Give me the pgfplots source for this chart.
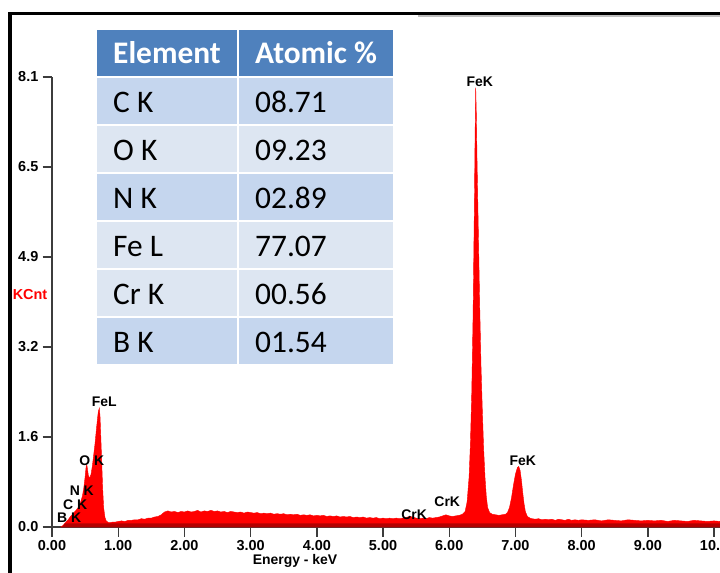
\documentclass[border=0pt]{standalone}
\usepackage{fontspec}
\usepackage{pgfplots}
\pgfplotsset{compat=1.18}
\setmainfont{Liberation Sans}
\newfontfamily\calibri{Carlito}
\definecolor{hdr}{RGB}{79,129,189}
\definecolor{rowdark}{RGB}{197,214,238}
\definecolor{rowlight}{RGB}{221,230,242}
\definecolor{axgray}{RGB}{60,60,60}
\definecolor{basered}{RGB}{180,0,0}
\newcommand{\lbl}{\fontsize{14}{14}\selectfont\bfseries}
\newcommand{\tkl}{\fontsize{14.5}{14.5}\selectfont\bfseries}
\begin{document}
\begin{tikzpicture}
\useasboundingbox (0,0) rectangle (720bp,573bp);
\fill[white] (0,0) rectangle (720bp,573bp);
\begin{axis}[
  at={(52bp,46bp)}, anchor=origin,
  scale only axis, width=668bp, height=450bp,
  xmin=0, xmax=10.09, ymin=0, ymax=8.1,
  axis lines=left, axis line style={-, line width=1.6bp, axgray},
  clip=false,
  tick align=outside, major tick length=9.5bp,
  tick style={line width=1.4bp, axgray},
  xtick={0,1,2,3,4,5,6,7,8,9,10},
  xticklabels={0.00,1.00,2.00,3.00,4.00,5.00,6.00,7.00,8.00,9.00,10.0},
  ytick={0,1.62,3.24,4.86,6.48,8.1},
  yticklabels={0.0,1.6,3.2,4.9,6.5,8.1},
  xticklabel style={font=\tkl, inner sep=0pt, anchor=north, yshift=-4bp},
  yticklabel style={font=\tkl, inner sep=0pt, anchor=east, xshift=-4bp},
  minor tick num=0,
]
\addplot[fill=red, draw=red, line width=0.4bp] coordinates {
(0.13,0) (0.16,0.02) (0.19,0.06) (0.22,0.10) (0.25,0.14) (0.28,0.19) (0.31,0.23) (0.34,0.27) (0.37,0.31) (0.40,0.36) (0.43,0.44) (0.46,0.56) (0.48,0.70) (0.50,0.90) (0.515,1.08) (0.525,1.12) (0.535,1.05) (0.55,0.92) (0.57,0.88) (0.59,0.95) (0.61,1.10) (0.63,1.30) (0.65,1.50) (0.67,1.75) (0.69,1.98) (0.70,2.08) (0.715,2.14) (0.725,2.0) (0.735,1.7) (0.75,1.2) (0.765,0.70) (0.78,0.35) (0.80,0.17) (0.82,0.11) (0.85,0.08) (0.88,0.08) (0.92,0.09) (0.96,0.09)
(1.00,0.10) (1.05,0.11) (1.10,0.10) (1.15,0.12) (1.20,0.12) (1.25,0.13) (1.30,0.13) (1.35,0.15) (1.40,0.14) (1.45,0.16) (1.50,0.16) (1.55,0.18) (1.60,0.19) (1.65,0.22) (1.70,0.27) (1.75,0.29) (1.80,0.27) (1.85,0.28) (1.90,0.26) (1.95,0.28)
(2.00,0.27) (2.05,0.29) (2.10,0.27) (2.15,0.28) (2.20,0.30) (2.25,0.27) (2.30,0.29) (2.35,0.28) (2.40,0.30) (2.45,0.28) (2.50,0.29) (2.55,0.27) (2.60,0.28) (2.65,0.26) (2.70,0.28) (2.75,0.27) (2.80,0.26) (2.85,0.27) (2.90,0.25) (2.95,0.27)
(3.00,0.26) (3.05,0.25) (3.10,0.26) (3.15,0.24) (3.20,0.25) (3.25,0.24) (3.30,0.25) (3.35,0.23) (3.40,0.24) (3.45,0.23) (3.50,0.24) (3.55,0.22) (3.60,0.23) (3.65,0.22) (3.70,0.23) (3.75,0.21) (3.80,0.22) (3.85,0.21) (3.90,0.22) (3.95,0.20)
(4.00,0.21) (4.05,0.20) (4.10,0.21) (4.15,0.19) (4.20,0.20) (4.25,0.19) (4.30,0.20) (4.35,0.18) (4.40,0.19) (4.45,0.18) (4.50,0.19) (4.55,0.17) (4.60,0.18) (4.65,0.17) (4.70,0.18) (4.75,0.16) (4.80,0.17) (4.85,0.16) (4.90,0.17) (4.95,0.15)
(5.00,0.16) (5.05,0.15) (5.10,0.16) (5.15,0.15) (5.20,0.16) (5.25,0.15) (5.30,0.16) (5.35,0.17) (5.40,0.19) (5.45,0.18) (5.50,0.16) (5.55,0.15) (5.60,0.16) (5.65,0.15) (5.70,0.17) (5.75,0.16) (5.80,0.17) (5.85,0.18) (5.90,0.20) (5.95,0.22)
(6.00,0.20) (6.05,0.19) (6.10,0.20) (6.15,0.21) (6.20,0.23) (6.24,0.28) (6.27,0.45) (6.30,0.9) (6.32,1.5) (6.34,2.4) (6.36,3.8) (6.38,5.8) (6.39,7.0) (6.40,7.91) (6.41,7.4) (6.42,6.6) (6.44,5.3) (6.46,4.0) (6.48,2.9) (6.50,2.1) (6.52,1.4) (6.54,0.9) (6.56,0.55) (6.58,0.35) (6.61,0.26) (6.65,0.23) (6.70,0.22) (6.75,0.21) (6.80,0.22) (6.85,0.23) (6.88,0.26) (6.91,0.35) (6.94,0.52) (6.97,0.75)
(7.00,0.95) (7.03,1.07) (7.05,1.09) (7.07,1.02) (7.09,0.85) (7.11,0.62) (7.13,0.42) (7.15,0.28) (7.18,0.19) (7.22,0.16) (7.25,0.15) (7.30,0.14) (7.35,0.15) (7.40,0.13) (7.45,0.14) (7.50,0.13) (7.55,0.14) (7.60,0.12) (7.65,0.14) (7.70,0.13) (7.75,0.12) (7.80,0.14) (7.85,0.12) (7.90,0.13) (7.95,0.12)
(8.00,0.13) (8.10,0.12) (8.20,0.13) (8.30,0.11) (8.40,0.13) (8.50,0.12) (8.60,0.11) (8.70,0.13) (8.80,0.12) (8.90,0.11)
(9.00,0.12) (9.10,0.11) (9.20,0.12) (9.30,0.10) (9.40,0.12) (9.50,0.11) (9.60,0.10) (9.70,0.12) (9.80,0.11) (9.90,0.10) (10.00,0.11) (10.09,0.10)
} \closedcycle;
\addplot[fill=basered, draw=none] coordinates {(0.15,0) (0.2,0.065) (10.09,0.065) (10.09,0)} \closedcycle;
\node[font=\lbl, anchor=south, inner sep=1bp] at (axis cs:6.46,7.91) {FeK};
\node[font=\lbl, anchor=south, inner sep=1bp] at (axis cs:7.11,1.09) {FeK};
\node[font=\lbl] at (axis cs:0.79,2.25) {FeL};
\node[font=\lbl] at (axis cs:0.60,1.20) {O K};
\node[font=\lbl] at (axis cs:0.45,0.65) {N K};
\node[font=\lbl] at (axis cs:0.35,0.40) {C K};
\node[font=\lbl] at (axis cs:0.26,0.16) {B K};
\node[font=\lbl] at (axis cs:5.47,0.22) {CrK};
\node[font=\lbl] at (axis cs:5.97,0.45) {CrK};
\end{axis}
\begin{scope}[x=1bp, y=-1bp, shift={(0,573bp)}]
\draw[black, line width=3bp] (10,573) -- (10,13.5) -- (720,13.5);
\draw[black!25, line width=2bp] (418,16.5) -- (720,16.5);
\node[red, font=\fontsize{14.5}{14.5}\selectfont\bfseries] at (30,295) {KCnt};
\node[font=\lbl] at (295,561) {Energy - keV};
\fill[hdr] (97,30) rectangle (237,76);
\fill[hdr] (239,30) rectangle (393,76);
\foreach \k/\c in {0/rowdark,1/rowlight,2/rowdark,3/rowlight,4/rowlight,5/rowdark}{
  \fill[\c] (97,78+48*\k) rectangle (237,124.5+48*\k);
  \fill[\c] (239,78+48*\k) rectangle (393,124.5+48*\k);
}
\node[anchor=base west, inner sep=0, white, font=\calibri\fontsize{31.5}{31.5}\selectfont\bfseries] at (113,64) {Element};
\node[anchor=base west, inner sep=0, white, font=\calibri\fontsize{31.5}{31.5}\selectfont\bfseries] at (255,64) {Atomic \%};
\foreach \k/\e/\v in {0/C K/08.71,1/O K/09.23,2/N K/02.89,3/Fe L/77.07,4/Cr K/00.56,5/B K/01.54}{
  \node[anchor=base west, inner sep=0, font=\calibri\fontsize{31.5}{31.5}\selectfont] at (113,113+48*\k) {\e};
  \node[anchor=base west, inner sep=0, font=\calibri\fontsize{31.5}{31.5}\selectfont] at (255,113+48*\k) {\v};
}
\end{scope}
\end{tikzpicture}
\end{document}
